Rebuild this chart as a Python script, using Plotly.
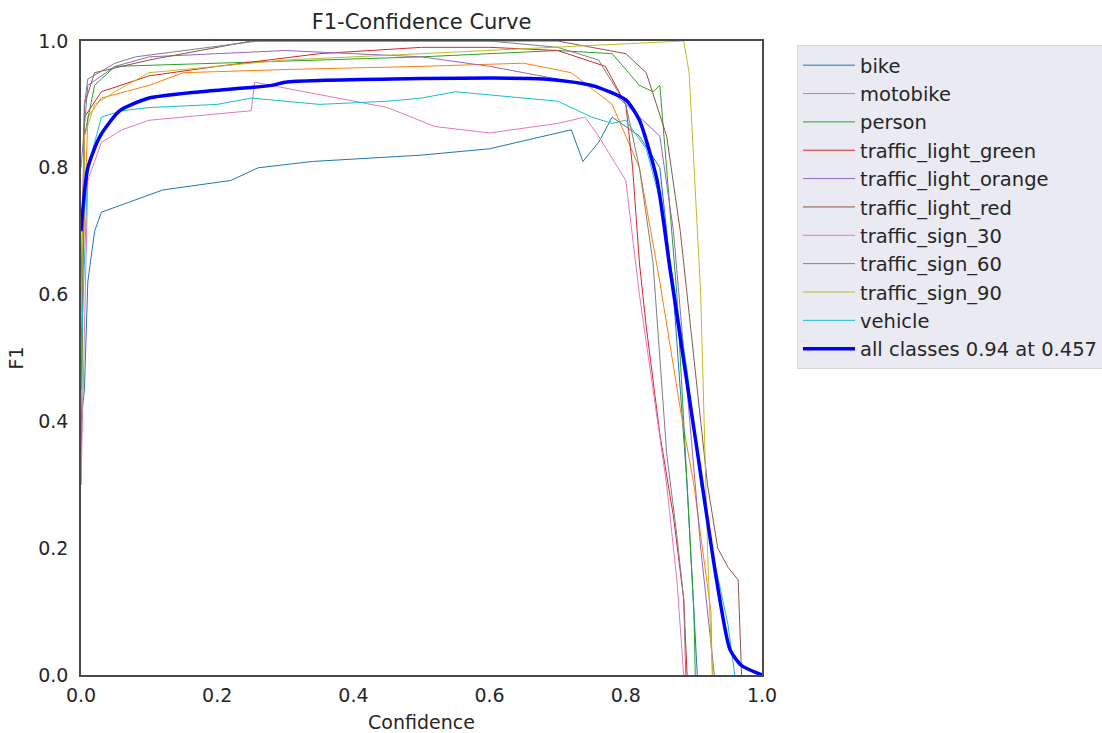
import plotly.graph_objects as go

# ---- data (confidence, F1) ----
names = ["bike", "motobike", "person", "traffic_light_green", "traffic_light_orange",
         "traffic_light_red", "traffic_sign_30", "traffic_sign_60", "traffic_sign_90", "vehicle"]
colors = ["#1f77b4", "#ff7f0e", "#2ca02c", "#d62728", "#9467bd",
          "#8c564b", "#e377c2", "#7f7f7f", "#bcbd22", "#17becf"]

bike_x = [0, 0.005, 0.01, 0.02, 0.03, 0.12, 0.22, 0.26, 0.34, 0.5, 0.6, 0.7, 0.72, 0.737, 0.76, 0.78, 0.82, 0.85, 0.87, 0.89, 0.905]
bike_y = [0.40, 0.45, 0.62, 0.70, 0.73, 0.765, 0.78, 0.80, 0.81, 0.82, 0.83, 0.855, 0.86, 0.81, 0.84, 0.88, 0.85, 0.80, 0.60, 0.30, 0.0]

moto_x = [0, 0.01, 0.03, 0.1, 0.15, 0.3, 0.5, 0.65, 0.72, 0.78, 0.82, 0.85, 0.88, 0.9, 0.915, 0.925, 0.927]
moto_y = [0.55, 0.88, 0.91, 0.93, 0.95, 0.955, 0.96, 0.965, 0.95, 0.90, 0.80, 0.62, 0.42, 0.30, 0.18, 0.10, 0.0]

person_x = [0, 0.005, 0.02, 0.05, 0.2, 0.5, 0.7, 0.78, 0.82, 0.84, 0.85, 0.86, 0.875, 0.89, 0.9, 0.902]
person_y = [0.30, 0.85, 0.93, 0.96, 0.965, 0.975, 0.985, 0.98, 0.93, 0.92, 0.93, 0.80, 0.60, 0.30, 0.10, 0.0]

tlg_x = [0, 0.005, 0.03, 0.1, 0.2, 0.35, 0.5, 0.6, 0.7, 0.77, 0.8, 0.81, 0.82, 0.83, 0.85, 0.87, 0.885, 0.89]
tlg_y = [0.60, 0.88, 0.92, 0.945, 0.96, 0.98, 0.99, 0.99, 0.985, 0.96, 0.90, 0.80, 0.65, 0.55, 0.38, 0.25, 0.12, 0.0]

tlo_x = [0, 0.01, 0.05, 0.1, 0.3, 0.5, 0.6, 0.7, 0.78, 0.82, 0.85, 0.87, 0.89, 0.91, 0.925, 0.93]
tlo_y = [0.80, 0.93, 0.96, 0.975, 0.985, 0.975, 0.96, 0.94, 0.92, 0.88, 0.85, 0.70, 0.45, 0.20, 0.05, 0.0]

tlr_x = [0, 0.005, 0.02, 0.1, 0.25, 0.7, 0.8, 0.83, 0.86, 0.88, 0.9, 0.92, 0.935, 0.95, 0.965, 0.97]
tlr_y = [0.45, 0.90, 0.95, 0.97, 1.0, 1.0, 0.98, 0.95, 0.85, 0.70, 0.50, 0.30, 0.20, 0.17, 0.15, 0.0]

ts30_x = [0, 0.01, 0.03, 0.06, 0.1, 0.2, 0.25, 0.255, 0.35, 0.45, 0.52, 0.6, 0.7, 0.74, 0.76, 0.8, 0.82, 0.84, 0.86, 0.875, 0.885]
ts30_y = [0.30, 0.78, 0.84, 0.86, 0.875, 0.885, 0.89, 0.935, 0.915, 0.895, 0.865, 0.855, 0.87, 0.88, 0.85, 0.78, 0.60, 0.45, 0.30, 0.15, 0.0]

ts60_x = [0, 0.005, 0.01, 0.05, 0.08, 0.15, 0.26, 0.6, 0.7, 0.76, 0.8, 0.82, 0.84, 0.85, 0.86, 0.875, 0.885, 0.888]
ts60_y = [0.50, 0.90, 0.94, 0.965, 0.975, 0.985, 1.0, 1.0, 0.99, 0.97, 0.90, 0.80, 0.65, 0.50, 0.35, 0.22, 0.12, 0.0]

ts90_x = [0, 0.005, 0.02, 0.05, 0.1, 0.3, 0.5, 0.7, 0.8, 0.885, 0.893, 0.9, 0.91, 0.915, 0.92, 0.925, 0.928]
ts90_y = [0.55, 0.85, 0.90, 0.92, 0.95, 0.97, 0.98, 0.99, 0.995, 1.0, 0.95, 0.80, 0.60, 0.40, 0.20, 0.05, 0.0]

veh_x = [0, 0.01, 0.03, 0.06, 0.1, 0.2, 0.25, 0.35, 0.45, 0.5, 0.55, 0.6, 0.65, 0.7, 0.75, 0.78, 0.8, 0.83, 0.85, 0.87, 0.89, 0.91, 0.93, 0.95, 0.96]
veh_y = [0.50, 0.80, 0.88, 0.89, 0.895, 0.90, 0.91, 0.90, 0.905, 0.91, 0.92, 0.915, 0.91, 0.905, 0.88, 0.87, 0.875, 0.83, 0.75, 0.62, 0.48, 0.30, 0.18, 0.08, 0.0]

all_x = [0, 0.01, 0.028, 0.057, 0.1, 0.175, 0.28, 0.3, 0.457, 0.68, 0.75, 0.8, 0.82, 0.846, 0.865, 0.904, 0.934, 0.953, 0.97, 1.0]
all_y = [0.70, 0.80, 0.85, 0.89, 0.91, 0.92, 0.93, 0.935, 0.94, 0.94, 0.93, 0.907, 0.875, 0.78, 0.64, 0.36, 0.145, 0.04, 0.015, 0.0]
all_label = "all classes 0.94 at 0.457"

series_x = [bike_x, moto_x, person_x, tlg_x, tlo_x, tlr_x, ts30_x, ts60_x, ts90_x, veh_x]
series_y = [bike_y, moto_y, person_y, tlg_y, tlo_y, tlr_y, ts30_y, ts60_y, ts90_y, veh_y]

FONT = "DejaVu Sans, sans-serif"
TXT = "#262626"
W, H = 1102, 733
ML, MR, MT, MB = 81, 0, 41, 58
PW = W - ML - MR  # paper width
PLOT_R = 762      # right edge of axes in pixels

fig = go.Figure()
for i, (n, c, xs, ys) in enumerate(zip(names, colors, series_x, series_y)):
    fig.add_trace(go.Scatter(x=xs, y=ys, mode="lines", name=n,
                             line=dict(color=c, width=1)))
fig.add_trace(go.Scatter(x=all_x, y=all_y, mode="lines", name=all_label,
                         line=dict(color="#0000ff", width=3.5, shape="spline", smoothing=0.6)))

axis_common = dict(showgrid=False, zeroline=False, showline=True, mirror=True,
                   linecolor="#4a4a4a", linewidth=1.6, ticks="outside",
                   tickcolor="rgba(0,0,0,0)",
                   tickfont=dict(family=FONT, size=19, color=TXT))
fig.update_layout(
    width=W, height=H,
    margin=dict(l=ML, r=MR, t=MT, b=MB, autoexpand=False),
    paper_bgcolor="white", plot_bgcolor="white",
    title=dict(text="F1-Confidence Curve", x=(81 + 762) / 2 / W, xanchor="center",
               y=1 - 22 / H, yanchor="middle",
               font=dict(family=FONT, size=21, color=TXT)),
    xaxis=dict(domain=[0, (PLOT_R - ML) / PW], range=[0, 1], tickvals=[0, 0.2, 0.4, 0.6, 0.8, 1.0],
               ticktext=["0.0", "0.2", "0.4", "0.6", "0.8", "1.0"], ticklen=2,
               title=dict(text="Confidence", font=dict(family=FONT, size=19, color=TXT), standoff=12),
               **axis_common),
    yaxis=dict(range=[0, 1], tickvals=[0, 0.2, 0.4, 0.6, 0.8, 1.0],
               ticktext=["0.0", "0.2", "0.4", "0.6", "0.8", "1.0"], ticklen=7,
               title=dict(text="F1", font=dict(family=FONT, size=19, color=TXT), standoff=10),
               **axis_common),
    legend=dict(x=(797 - ML) / PW, xanchor="left", y=(675 - 45) / 634, yanchor="top",
                bgcolor="#eaeaf2", bordercolor="#d8d8e0", borderwidth=1,
                font=dict(family=FONT, size=19.5, color=TXT),
                tracegroupgap=0, itemwidth=52),
    showlegend=True,
)
fig.write_html("out.html")
